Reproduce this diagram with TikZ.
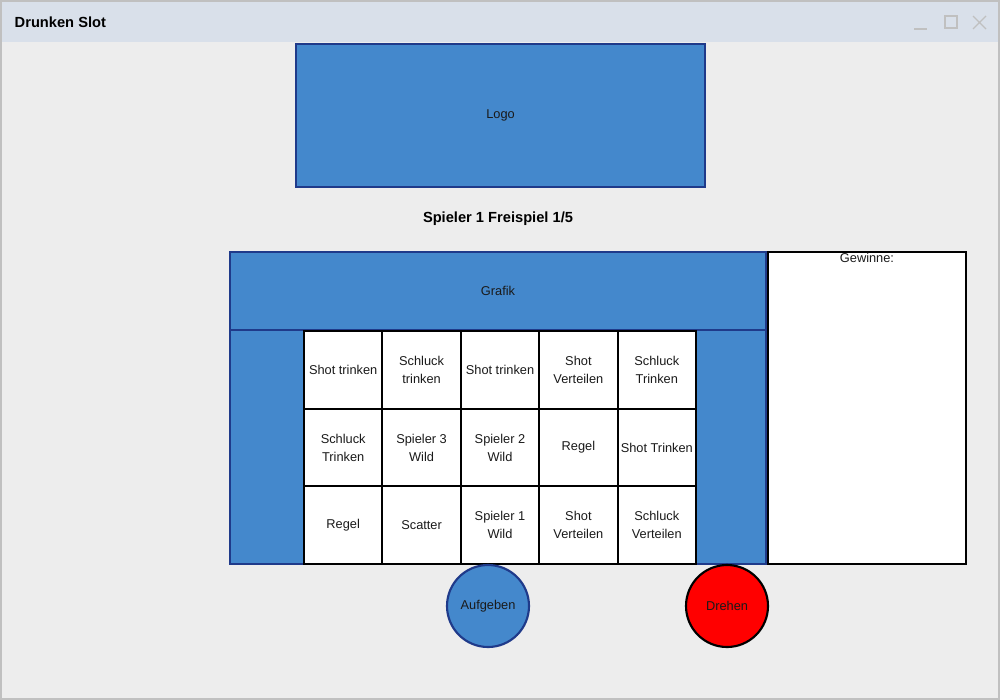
\documentclass[tikz,border=0pt]{standalone}
\usepackage{fontspec}
\setmainfont{Liberation Sans}
\definecolor{blau}{HTML}{4488CC}
\definecolor{dunkelblau}{HTML}{1F3A8A}
\definecolor{titelleiste}{HTML}{D9E0EA}
\definecolor{hintergrund}{HTML}{EDEDED}
\definecolor{fenstergrau}{HTML}{C0C0C0}
\definecolor{rot}{HTML}{FF0000}
\definecolor{schrift}{HTML}{1A1A1A}

\begin{document}
\begin{tikzpicture}[x=0.75pt,y=-0.75pt,text=schrift,font=\fontsize{9.6}{13.5}\selectfont,
blaubox/.style={draw=dunkelblau,line width=1.6pt,fill=blau},
zelle/.style={draw=black,line width=1.6pt,fill=white,minimum width=58.8pt,minimum height=58.25pt,align=center,inner sep=0pt},
knopf/.style={circle,line width=1.6pt,minimum size=61.5pt,inner sep=0pt}]

\useasboundingbox (0,0) rectangle (1000,700);

% Fenster
\fill[hintergrund] (0,0) rectangle (1000,700);
\fill[titelleiste] (2,2) rectangle (998,42);
\draw[fenstergrau,line width=1.5pt] (1,1) rectangle (999,699);
\node (titel) at (10,22)[anchor=west,text=black,font=\bfseries\fontsize{11}{13}\selectfont]{Drunken Slot};
\draw[fenstergrau,line width=1.2pt] (914,29) -- (927,29);
\draw[fenstergrau,line width=1.2pt] (945,16) rectangle (957,28);
\draw[fenstergrau,line width=1pt] (973,16) -- (986,29) (973,29) -- (986,16);

\node (logo) at (500.5,115.5)[blaubox,minimum width=306.75pt,minimum height=107.25pt]{Logo};

\node (status) at (498,219)[text=black,font=\bfseries\fontsize{11}{13}\selectfont]{Spieler 1 Freispiel 1/5};

\node (grafik) at (498,291)[blaubox,minimum width=402pt,minimum height=58.5pt]{Grafik};
\node (links) at (267,447)[blaubox,minimum width=55.5pt,minimum height=175.5pt]{};
\node (rechts) at (731,447)[blaubox,minimum width=52.5pt,minimum height=175.5pt]{};

% Walzen
\foreach \t [count=\i from 0] in {{Shot trinken},{Schluck\\trinken},{Shot trinken},{Shot\\Verteilen},{Schluck\\Trinken},
{Schluck\\Trinken},{Spieler 3\\Wild},{Spieler 2\\Wild},{Regel},{Shot Trinken},
{Regel},{Scatter},{Spieler 1\\Wild},{Shot\\Verteilen},{Schluck\\Verteilen}}
{
\pgfmathtruncatemacro\sp{mod(\i,5)}
\pgfmathtruncatemacro\ze{div(\i,5)}
\node (c\ze\sp) at ({304+78.4*(\sp+0.5)},{331+77.67*(\ze+0.5)})[zelle]{\t};
}

\node (gewinne) at (867,408)[draw=black,line width=1.6pt,fill=white,minimum width=148.5pt,minimum height=234pt]{};
\node (gewinnetext) at (gewinne.north)[anchor=north,inner sep=1.5pt]{Gewinne:};

\node (aufgeben) at (488,606)[knopf,draw=dunkelblau,fill=blau]{Aufgeben};
\node (drehen) at (727,606)[knopf,draw=black,fill=rot]{Drehen};

\end{tikzpicture}
\end{document}
